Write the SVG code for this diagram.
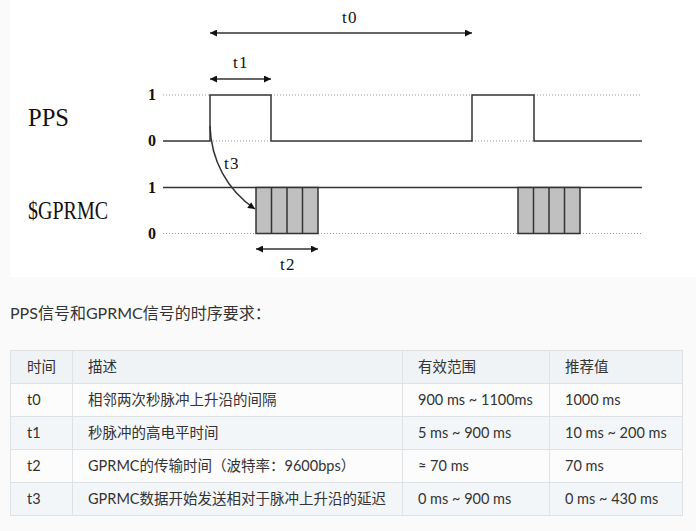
<svg xmlns="http://www.w3.org/2000/svg" width="696" height="531" viewBox="0 0 696 531">
<style>
.sig{fill:none;stroke:#333;stroke-width:1.5}
.dot{fill:none;stroke:#999;stroke-width:1;stroke-dasharray:1 2}
.arr{fill:none;stroke:#333;stroke-width:1.5}
.lvl{font-family:"Liberation Serif",serif;font-weight:bold;font-size:16px;fill:#111}
.big{font-family:"Liberation Serif",serif;font-size:26px;fill:#111}
.tl{font-family:"Liberation Serif",serif;font-size:17px;fill:#111;text-anchor:middle;letter-spacing:1.5px}
.cell{fill:#fcfcfc;stroke:#dfe2e5;stroke-width:1}
.alt{fill:#f3f6f8}
.hd{fill:#f0f3f5}
.tx{font-family:Lato,"Noto Sans CJK SC",sans-serif;font-size:14.5px;fill:#333}
.box{fill:#c0c0c0;stroke:#333;stroke-width:1.5}
</style>
<defs>
<marker id="ah" viewBox="0 0 10 10" refX="10" refY="5" markerWidth="9" markerHeight="7" markerUnits="userSpaceOnUse" orient="auto-start-reverse">
<path d="M0,0 L10,5 L0,10 z" fill="#111"/>
</marker>
</defs>
<rect x="0" y="0" width="696" height="531" fill="#fafafa"/>
<rect x="10" y="0" width="686" height="277" fill="#ffffff"/>

<g id="labels">
<text class="big" x="28" y="126" textLength="41" lengthAdjust="spacingAndGlyphs">PPS</text>
<text class="big" x="28" y="219" textLength="80" lengthAdjust="spacingAndGlyphs">$GPRMC</text>
<text class="lvl" x="148" y="100">1</text>
<text class="lvl" x="148" y="146">0</text>
<text class="lvl" x="148" y="193">1</text>
<text class="lvl" x="148" y="239">0</text>
</g>

<g id="pps">
<path class="dot" d="M163,95 H210 M271,95 H472 M534,95 H642 M210,141 H271 M472,141 H534"/>
<path class="sig" d="M163,141 H210 V95 H271 V141 H472 V95 H534 V141 H642"/>
</g>

<g id="gprmc">
<path class="dot" d="M163,233.5 H256 M318,233.5 H518 M580,233.5 H642"/>
<path class="sig" d="M163,187.5 H642"/>
<g id="frame1">
<rect class="box" x="256" y="187.5" width="62" height="46"/>
<path class="sig" d="M271.5,187.5 V233.5 M287,187.5 V233.5 M302.5,187.5 V233.5"/>
</g>
<g id="frame2">
<rect class="box" x="518" y="187.5" width="62" height="46"/>
<path class="sig" d="M533.5,187.5 V233.5 M549,187.5 V233.5 M564.5,187.5 V233.5"/>
</g>
</g>

<g id="connectors">
<line class="arr" x1="210" y1="33" x2="472" y2="33" stroke-width="2" stroke="#444" marker-start="url(#ah)" marker-end="url(#ah)"/>
<line class="arr" x1="210" y1="79" x2="271" y2="79" marker-start="url(#ah)" marker-end="url(#ah)"/>
<line class="arr" x1="256" y1="249" x2="318" y2="249" marker-start="url(#ah)" marker-end="url(#ah)"/>
<path class="arr" d="M210,126 C211,160 227,190 255,209" stroke-width="1.2" marker-end="url(#ah)"/>
</g>

<g id="tlabels">
<text class="tl" x="350" y="23">t0</text>
<text class="tl" x="241" y="68">t1</text>
<text class="tl" x="232" y="169">t3</text>
<text class="tl" x="288" y="270">t2</text>
</g>

<text class="tx" x="10" y="319" style="font-size:16px">PPS信号和GPRMC信号的时序要求：</text>

<g id="table">
<rect class="cell hd" x="10.5" y="350.5" width="62" height="33"/>
<rect class="cell hd" x="72.5" y="350.5" width="330" height="33"/>
<rect class="cell hd" x="402.5" y="350.5" width="147" height="33"/>
<rect class="cell hd" x="549.5" y="350.5" width="133" height="33"/>

<rect class="cell" x="10.5" y="383.5" width="62" height="33"/>
<rect class="cell" x="72.5" y="383.5" width="330" height="33"/>
<rect class="cell" x="402.5" y="383.5" width="147" height="33"/>
<rect class="cell" x="549.5" y="383.5" width="133" height="33"/>

<rect class="cell alt" x="10.5" y="416.5" width="62" height="33"/>
<rect class="cell alt" x="72.5" y="416.5" width="330" height="33"/>
<rect class="cell alt" x="402.5" y="416.5" width="147" height="33"/>
<rect class="cell alt" x="549.5" y="416.5" width="133" height="33"/>

<rect class="cell" x="10.5" y="449.5" width="62" height="33"/>
<rect class="cell" x="72.5" y="449.5" width="330" height="33"/>
<rect class="cell" x="402.5" y="449.5" width="147" height="33"/>
<rect class="cell" x="549.5" y="449.5" width="133" height="33"/>

<rect class="cell alt" x="10.5" y="482.5" width="62" height="33"/>
<rect class="cell alt" x="72.5" y="482.5" width="330" height="33"/>
<rect class="cell alt" x="402.5" y="482.5" width="147" height="33"/>
<rect class="cell alt" x="549.5" y="482.5" width="133" height="33"/>

<text class="tx" x="27" y="372">时间</text>
<text class="tx" x="88" y="372">描述</text>
<text class="tx" x="418" y="372">有效范围</text>
<text class="tx" x="565" y="372">推荐值</text>

<text class="tx" x="27" y="405">t0</text>
<text class="tx" x="88" y="405">相邻两次秒脉冲上升沿的间隔</text>
<text class="tx" x="418" y="405">900 ms ~ 1100ms</text>
<text class="tx" x="565" y="405">1000 ms</text>

<text class="tx" x="27" y="438">t1</text>
<text class="tx" x="88" y="438">秒脉冲的高电平时间</text>
<text class="tx" x="418" y="438">5 ms ~ 900 ms</text>
<text class="tx" x="565" y="438">10 ms ~ 200 ms</text>

<text class="tx" x="27" y="471">t2</text>
<text class="tx" x="88" y="471">GPRMC的传输时间（波特率：9600bps）</text>
<text class="tx" x="418" y="471">≈ 70 ms</text>
<text class="tx" x="565" y="471">70 ms</text>

<text class="tx" x="27" y="504">t3</text>
<text class="tx" x="88" y="504">GPRMC数据开始发送相对于脉冲上升沿的延迟</text>
<text class="tx" x="418" y="504">0 ms ~ 900 ms</text>
<text class="tx" x="565" y="504">0 ms ~ 430 ms</text>
</g>
</svg>
